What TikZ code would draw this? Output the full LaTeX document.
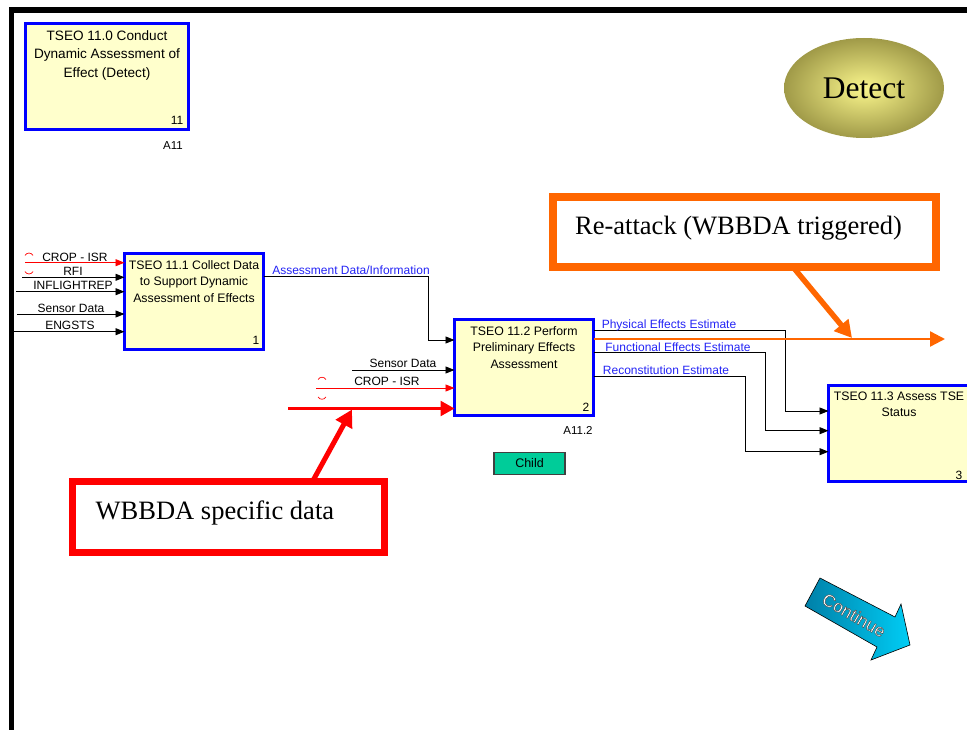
\documentclass[tikz,border=0pt]{standalone}
\usepackage{fontspec}
\setmainfont{Liberation Serif}
\setsansfont{Liberation Sans}
\usetikzlibrary{arrows.meta,shapes.geometric,calc}

\definecolor{boxfill}{RGB}{255,255,204}
\definecolor{boxline}{RGB}{0,0,255}
\definecolor{lbl}{RGB}{35,35,245}
\definecolor{alertred}{RGB}{255,0,0}
\definecolor{alertorange}{RGB}{255,102,0}
\definecolor{childgreen}{RGB}{0,204,153}
\definecolor{olivedark}{RGB}{160,154,72}
\definecolor{olivelight}{RGB}{250,246,140}
\definecolor{contdark}{RGB}{0,128,168}
\definecolor{contlight}{RGB}{0,205,245}

% white lettering with a thin dark rim (fill and stroke text rendering)
\newcommand\haloword[1]{{\color{white}%
  \special{pdf:literal direct 0.25 0.25 0.25 RG 0.4 w 2 Tr}#1%
  \special{pdf:literal direct 0 Tr}}}

\begin{document}
\begin{tikzpicture}[x=1pt,y=-1pt,
  actbox/.style={rectangle, draw=boxline, line width=3pt, fill=boxfill,
    anchor=north west, inner sep=0pt, outer sep=0pt},
  boxtext/.style={font=\sffamily\fontsize{12.3}{16.6}\selectfont, align=center,
    anchor=north, inner sep=0pt},
  boxnum/.style={font=\sffamily\fontsize{12}{14}\selectfont, anchor=south east, inner sep=0pt},
  nodeid/.style={font=\sffamily\fontsize{11.5}{14}\selectfont, inner sep=0pt},
  arrowlbl/.style={font=\sffamily\fontsize{12}{14}\selectfont, inner sep=0pt},
  bluelbl/.style={arrowlbl, text=lbl},
  flow/.style={draw=black, line width=0.8pt, -{Triangle[length=9pt,width=7pt]}},
  redflow/.style={draw=alertred, line width=0.8pt, -{Triangle[length=9pt,width=7pt]}},
  tunnel/.style={draw=alertred, line width=0.7pt},
  thickred/.style={draw=alertred, line width=2.6pt, -{Triangle[length=14pt,width=15pt]}},
  orangeflow/.style={draw=alertorange, line width=2.4pt, -{Triangle[length=15pt,width=15pt]}},
  pointer/.style={line width=5.5pt, -{Triangle[length=17pt,width=18pt]}},
  callout/.style={rectangle, anchor=north west, inner sep=0pt, outer sep=0pt},
  callouttext/.style={font=\fontsize{26.5}{30}\selectfont, anchor=west, inner sep=0pt},
]
\useasboundingbox (0,0) rectangle (967,730);
\clip (0,0) rectangle (967,730);

% page frame
\fill (9,7) rectangle (967,13.3);
\fill (9,7) rectangle (14.3,730);

% parent activity
\node[actbox, minimum width=163pt, minimum height=106pt] (b0) at (25.5,23.5) {};
\node[boxtext, font=\sffamily\fontsize{13.6}{18.6}\selectfont] (t0)
  at ([yshift=-6.5pt]b0.north) {TSEO 11.0 Conduct\\Dynamic Assessment of\\Effect (Detect)};
\node[boxnum] (n0) at ([shift={(-5pt,5pt)}]b0.south east) {11};
\node[nodeid] (id0) at (173,146) {A11};

% Detect badge
\node[ellipse, minimum width=160pt, minimum height=100pt, inner sep=0pt,
  inner color=olivelight, outer color=olivedark,
  font=\fontsize{31.5}{34}\selectfont] (det) at (864,88) {Detect};

% child activities
\node[actbox, minimum width=139pt, minimum height=95pt] (b1) at (124.5,254) {};
\node[boxtext] (t1) at ([yshift=-6pt]b1.north)
  {TSEO 11.1 Collect Data\\to Support Dynamic\\Assessment of Effects};
\node[boxnum] (n1) at ([shift={(-4pt,4pt)}]b1.south east) {1};

\node[actbox, minimum width=139pt, minimum height=96pt] (b2) at (454.5,319.5) {};
\node[boxtext] (t2) at ([yshift=-6.5pt]b2.north)
  {TSEO 11.2 Perform\\Preliminary Effects\\Assessment};
\node[boxnum] (n2) at ([shift={(-4pt,4pt)}]b2.south east) {2};
\node[nodeid] (id2) at (578,430) {A11.2};

\node[actbox, minimum width=160pt, minimum height=96pt] (b3) at (828.5,385.5) {};
\node[boxtext] (t3) at ([shift={(70.5pt,-6pt)}]b3.north west)
  {TSEO 11.3 Assess TSE\\Status};
\node[boxnum, anchor=south] (n3) at (959,480) {3};

% inputs of 11.1
\coordinate (i1) at (25,262.7);
\coordinate (i2) at (22,277.3);
\coordinate (i3) at (16,291.7);
\coordinate (i4) at (17,314);
\coordinate (i5) at (14,331.7);
\draw[redflow] (i1) -- (i1 -| b1.west);
\draw[flow] (i2) -- (i2 -| b1.west);
\draw[flow] (i3) -- (i3 -| b1.west);
\draw[flow] (i4) -- (i4 -| b1.west);
\draw[flow] (i5) -- (i5 -| b1.west);
\node[arrowlbl] (l1) at (75,257.5) {CROP - ISR};
\node[arrowlbl] (l2) at (73,271.5) {RFI};
\node[arrowlbl] (l3) at (73,285.5) {INFLIGHTREP};
\node[arrowlbl] (l4) at (71,308) {Sensor Data};
\node[arrowlbl] (l5) at (70,325.5) {ENGSTS};
\draw[tunnel] (25,255.5) .. controls (27,252.2) and (31,252.2) .. (33,255.5);
\draw[tunnel] (25,271.5) .. controls (27,274.8) and (31,274.8) .. (33,271.5);

% 11.1 -> 11.2
\draw[flow] ([yshift=-22pt]b1.north east) -- ++(164.5,0) |- ([yshift=-20.5pt]b2.north west);
\node[bluelbl] (l6) at (351,270.5) {Assessment Data/Information};

% inputs of 11.2
\coordinate (i6) at (352,370);
\coordinate (i7) at (316,388);
\coordinate (i8) at (288,408.5);
\draw[flow] (i6) -- (i6 -| b2.west);
\draw[redflow] (i7) -- (i7 -| b2.west);
\draw[thickred] (i8) -- (i8 -| b2.west);
\node[arrowlbl] (l7) at (403,363) {Sensor Data};
\node[arrowlbl] (l8) at (387,381.5) {CROP - ISR};
\draw[tunnel] (318,379.5) .. controls (320,376.5) and (324,376.5) .. (326,379.5);
\draw[tunnel] (318,397) .. controls (320,400) and (324,400) .. (326,397);

% 11.2 -> 11.3
\draw[flow] ([yshift=-11.2pt]b2.north east) -- ++(192,0) |- ([yshift=-25.5pt]b3.north west);
\draw[flow] ([yshift=-33.2pt]b2.north east) -- ++(172,0) |- ([yshift=-45.2pt]b3.north west);
\draw[flow] ([yshift=-57.2pt]b2.north east) -- ++(152,0) |- ([yshift=-66.2pt]b3.north west);
\node[bluelbl] (l9) at (669,325) {Physical Effects Estimate};
\node[bluelbl] (l10) at (678,347.5) {Functional Effects Estimate};
\node[bluelbl] (l11) at (666,370.5) {Reconstitution Estimate};

% re-attack path
\coordinate (reend) at (945,339);
\draw[orangeflow] ([yshift=-19.5pt]b2.north east) -- (reend);

% callouts
\node[callout, draw=alertorange, line width=8pt, minimum width=383pt, minimum height=70pt] (re) at (553,197) {};
\node[callouttext] (ret) at ([shift={(22pt,-31.5pt)}]re.north west) {Re-attack (WBBDA triggered)};
\coordinate (retip) at (852,338);
\draw[pointer, alertorange] ([xshift=240pt]re.south west) -- (retip);

\node[callout, draw=alertred, line width=6.7pt, minimum width=312pt, minimum height=71pt] (wb) at (72.5,481.5) {};
\node[callouttext] (wbt) at ([shift={(23pt,-31pt)}]wb.north west) {WBBDA specific data};
\coordinate (wbtip) at (352,409.5);
\draw[pointer, alertred, line width=5pt] ([xshift=240pt]wb.north west) -- (wbtip);

% Child button
\node[rectangle, draw=black!75, line width=1.6pt, fill=childgreen, minimum width=71pt,
  minimum height=22pt, inner sep=0pt, font=\sffamily\fontsize{12.5}{14}\selectfont] (child)
  at (529.5,463.3) {Child};

% Continue arrow
\path[draw=black, line width=0.6pt, left color=contdark, right color=contlight]
  (820,578) -- (895,617) -- (901,604) -- (910,645) -- (871,660) -- (877,647) -- (805,606) -- cycle;
\node[rotate=-30, inner sep=0pt, font=\sffamily\fontsize{17.5}{19}\selectfont] (cont)
  at (854,615) {\haloword{Continue}};
\end{tikzpicture}
\end{document}
